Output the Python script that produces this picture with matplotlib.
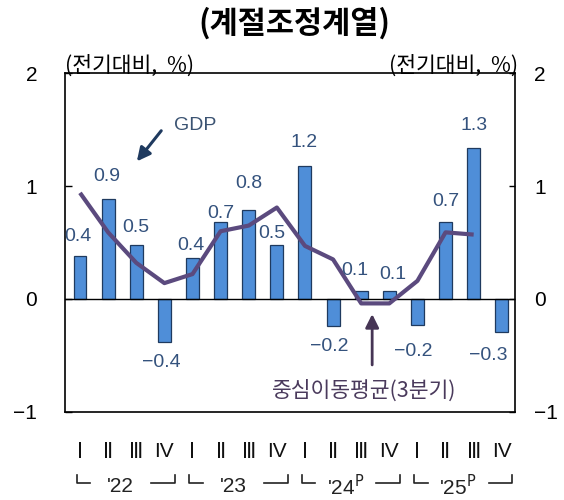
import numpy as np
import matplotlib
matplotlib.use('Agg')
import matplotlib.pyplot as plt
import matplotlib.transforms as mtransforms
from matplotlib.lines import Line2D

plt.rcParams['font.family'] = ['Liberation Sans', 'Noto Sans CJK KR', 'DejaVu Sans']
plt.rcParams['axes.unicode_minus'] = True

# data (quarter-on-quarter %, seasonally adjusted)
quarters = ['Ⅰ', 'Ⅱ', 'Ⅲ', 'IV'] * 4
years = ["'22", "'23", "'24$^{\\mathrm{P}}$", "'25$^{\\mathrm{P}}$"]
gdp = [0.38, 0.89, 0.48, -0.38,
       0.36, 0.68, 0.79, 0.48,
       1.18, -0.24, 0.07, 0.07,
       -0.23, 0.68, 1.34, -0.29]
moving_avg = [0.94, 0.59, 0.32, 0.14,
              0.22, 0.60, 0.65, 0.81,
              0.47, 0.35, -0.04, -0.04,
              0.16, 0.59, 0.57]

# label offsets in pixels (dx, dy) from the bar end
label_offsets = [(-2, 20), (-1, 22), (0, 17), (-3, -21),
                 (-2, 13), (0, 9), (0, 26), (-5, 11),
                 (-1, 23), (-4, -21), (-6, 21), (3, 17),
                 (-4, -27), (0, 21), (0, 22), (-14, -24)]

bar_color = '#4F8ED8'
edge_color = '#1F3A5F'
line_color = '#5B4A7E'
label_color = '#34527D'
kr = ['Noto Sans CJK KR', 'DejaVu Sans']

fig = plt.figure(figsize=(5.64, 5.0), dpi=100)
ax = fig.add_axes([65 / 564, 1 - 411.7 / 500, 450 / 564, 338.4 / 500])

x = np.arange(len(gdp))
ax.bar(x, gdp, width=0.46, color=bar_color, edgecolor=edge_color, linewidth=0.9, zorder=2)
ax.axhline(0, color='black', linewidth=1.0, zorder=3)
ax.plot(np.arange(len(moving_avg)), moving_avg, color=line_color, linewidth=3.0,
        solid_capstyle='butt', zorder=4)

for i, v in enumerate(gdp):
    dx, dy = label_offsets[i]
    txt = f'{v:.1f}'.replace('-', '\u2212')
    ax.annotate(txt, (i, v), xytext=(dx * 0.72, dy * 0.72), textcoords='offset points',
                ha='center', va='center', fontsize=14, color=label_color, zorder=5)

ax.set_xlim(-0.534, 15.47)
ax.set_ylim(-1, 2)
ax.set_yticks([-1, 0, 1, 2])
ax.set_yticklabels(['\u22121', '0', '1', '2'])
ax.tick_params(axis='y', direction='in', length=5, width=1, labelsize=15, pad=20)
ax.set_xticks(x)
ax.set_xticklabels(quarters, fontsize=15)
for lbl in ax.get_xticklabels():
    # DejaVu draws the roman numeral signs with serif bars, like the original
    if lbl.get_text() != 'IV':
        lbl.set_family(['DejaVu Sans'])
    lbl.set_color('#111111')
ax.tick_params(axis='x', length=0, pad=22)
for s in ax.spines.values():
    s.set_linewidth(1.2)

ax2 = ax.twinx()
ax2.set_ylim(-1, 2)
ax2.set_yticks([-1, 0, 1, 2])
ax2.set_yticklabels(['\u22121', '0', '1', '2'])
ax2.tick_params(axis='y', direction='in', length=4, width=1, labelsize=15, pad=14)
for s in ax2.spines.values():
    s.set_visible(False)

# unit labels
ax.text(0.0, 1.022, '(전기대비,  %)', transform=ax.transAxes, ha='left', va='center',
        fontsize=15.5, family=kr)
ax.text(1.007, 1.022, '(전기대비,  %)', transform=ax.transAxes, ha='right', va='center',
        fontsize=15.5, family=kr)

fig.text(294 / 564, 1 - 23 / 500, '(계절조정계열)', ha='center', va='center',
         fontsize=22, fontweight='bold', family=kr)

# annotations
ax.annotate('', xy=(1.96, 1.20), xytext=(2.95, 1.51),
            arrowprops=dict(arrowstyle='-|>', color='#1F3A5F', lw=2.2, mutation_scale=20))
ax.text(4.09, 1.54, 'GDP', ha='center', va='center', fontsize=14, color='#3B5372')

ax.annotate('', xy=(10.39, -0.11), xytext=(10.39, -0.61),
            arrowprops=dict(arrowstyle='-|>', color='#463555', lw=2.0, mutation_scale=20))
ax.text(10.12, -0.815, '중심이동평균(3분기)', ha='center', va='center', fontsize=15.5,
        color='#4A3A5C', family=kr)

# year brackets under the quarter labels
trans = mtransforms.blended_transform_factory(ax.transData, fig.transFigure)
y_top, y_bot = 1 - 475 / 500, 1 - 483 / 500
for g, yr in enumerate(years):
    base = 4 * g
    ax.add_line(Line2D([base - 0.12, base - 0.12, base + 0.36], [y_top, y_bot, y_bot],
                       transform=trans, color='#222222', lw=1.2, clip_on=False))
    ax.add_line(Line2D([base + 2.54, base + 3.38, base + 3.38], [y_bot, y_bot, y_top],
                       transform=trans, color='#222222', lw=1.2, clip_on=False))
    ax.text(base + 1.45, 1 - 487 / 500, yr, transform=trans, ha='center', va='center',
            fontsize=15, color='#222222')

fig.savefig('out.png', dpi=100)
